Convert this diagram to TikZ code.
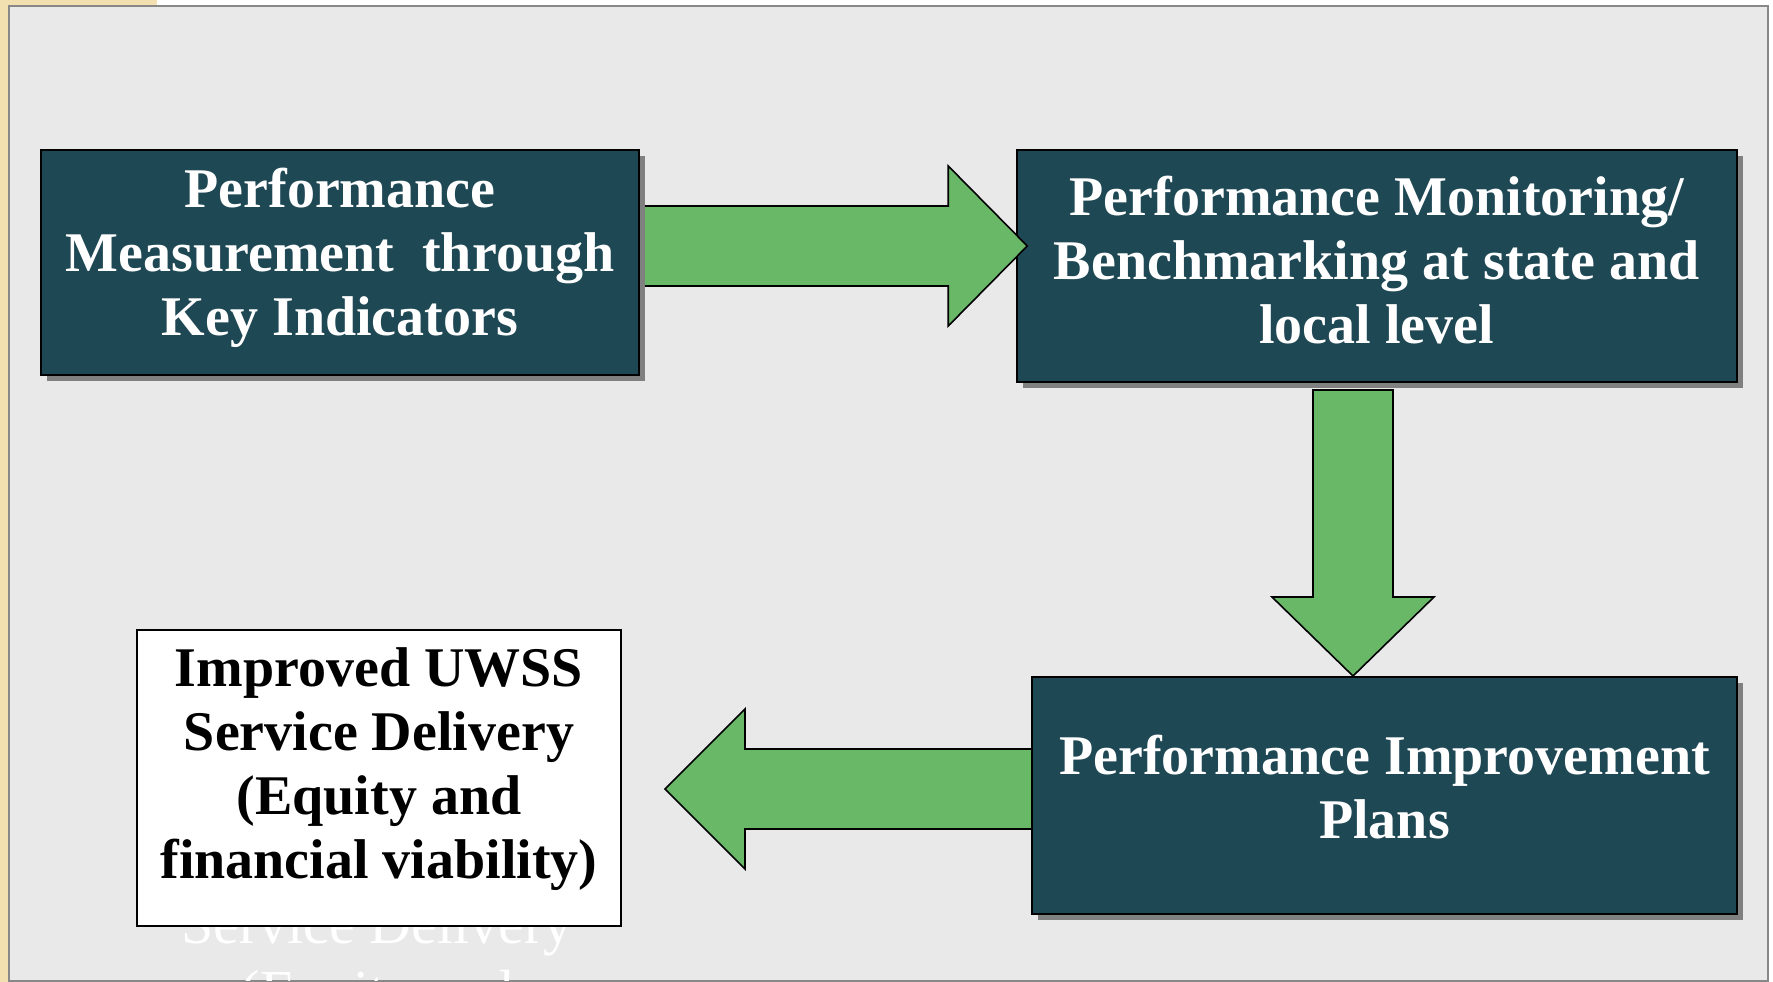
\documentclass[tikz,border=0pt]{standalone}
\usepackage{fontspec}
\newfontfamily\ghostfont{Liberation Serif}
\newfontfamily\boxfont{Liberation Serif}[BoldFont={* Bold}]
\usetikzlibrary{calc,shadows}
\newcommand\palb{\boxfont\bfseries\fontsize{56pt}{64pt}\selectfont}
\definecolor{boxteal}{HTML}{1F4855}
\definecolor{arrowgreen}{HTML}{69B868}
\definecolor{panelgray}{HTML}{E9E9E9}
\definecolor{framegray}{HTML}{888888}
\definecolor{shadowgray}{HTML}{808080}
\definecolor{beige}{HTML}{F2E0B0}
\tikzset{
  tealbox/.style={draw=black, line width=2pt, fill=boxteal, text=white, align=center,
    inner sep=0pt, font=\palb, text depth=0pt,
    general shadow={fill=shadowgray, shadow xshift=6pt, shadow yshift=-6pt}},
  whitebox/.style={draw=black, line width=1.6pt, fill=white, text=black, align=center,
    inner sep=0pt, font=\palb, text depth=0pt},
  fatarrow/.style={draw=black, line width=1.6pt, fill=arrowgreen, line join=miter},
}
\begin{document}
\begin{tikzpicture}[x=1pt,y=-1pt]
\useasboundingbox (0,0) rectangle (1773,982);
\fill[white] (0,0) rectangle (1773,982);
\fill[beige] (0,0) rectangle (8,982);
\fill[beige] (0,0) rectangle (157,5);
\draw[draw=framegray, line width=2pt, fill=panelgray] (9,6) rectangle (1768,981);

% ghost text (clipped to the panel)
\begin{scope}
\clip (10,7) rectangle (1767,980);
\node[text=white, font=\ghostfont\fontsize{58pt}{67pt}\selectfont, align=center, anchor=base]
  (ghost) at (377,1010) {Service Delivery\\(Equity and};
\end{scope}

% boxes
\node[tealbox, minimum width=720pt, minimum height=232pt, text height=154pt] (bench) at (1376.75,266)
  {Performance Monitoring/\\Benchmarking at state and\\local level};
\coordinate (a1s) at (635,246);
\coordinate (a1e) at ($(bench.west)+(11.5,-20)$);
\draw[fatarrow] let \p1=(a1s), \p2=(a1e) in
  (\x1,\y1+40pt) -- (\x2-79pt,\y1+40pt) -- (\x2-79pt,\y1+80pt) -- (\p2)
  -- (\x2-79pt,\y1-80pt) -- (\x2-79pt,\y1-40pt) -- (\x1,\y1-40pt) -- cycle;
\node[tealbox, minimum width=598pt, minimum height=225pt, text height=145pt] (meas) at (340,262.5)
  {Performance\\Measurement\ \ through\\Key Indicators};

\coordinate (a3s) at (1040,789);
\coordinate (a3e) at (665,789);
\draw[fatarrow] let \p1=(a3s), \p2=(a3e) in
  (\x1,\y1+40pt) -- (\x2+80pt,\y1+40pt) -- (\x2+80pt,\y1+80pt) -- (\p2)
  -- (\x2+80pt,\y1-80pt) -- (\x2+80pt,\y1-40pt) -- (\x1,\y1-40pt) -- cycle;
\node[tealbox, minimum width=705pt, minimum height=237pt, text height=85pt] (plans) at (1384.5,795.5)
  {Performance Improvement\\Plans};

\coordinate (a2s) at (1353,390);
\coordinate (a2e) at (plans.north -| a2s);
\draw[fatarrow] let \p1=(a2s), \p2=(a2e) in
  (\x1-40pt,\y1) -- (\x1-40pt,\y2+79pt) -- (\x1-81pt,\y2+79pt) -- (\p2)
  -- (\x1+81pt,\y2+79pt) -- (\x1+40pt,\y2+79pt) -- (\x1+40pt,\y1) -- cycle;

\node[whitebox, minimum width=484pt, minimum height=296pt, text height=200pt] (improved) at (379,778)
  {Improved UWSS\\Service Delivery\\(Equity and\\financial viability)};
\end{tikzpicture}
\end{document}
